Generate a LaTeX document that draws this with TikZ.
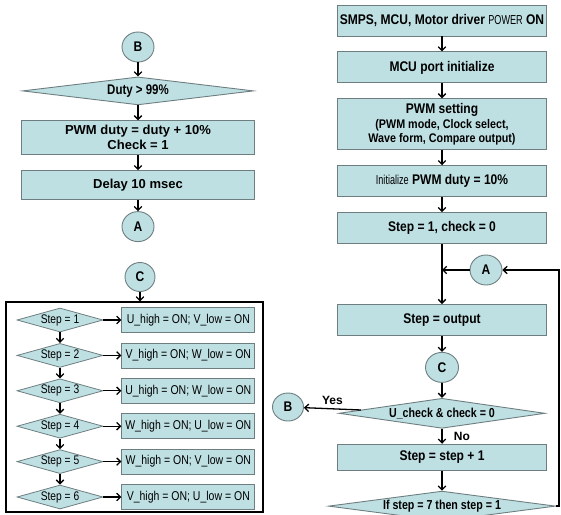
\documentclass[tikz,border=0pt]{standalone}
\usepackage{fontspec}
\setmainfont{Liberation Sans}
\newfontfamily\bodyfont{Liberation Sans}[FakeStretch=0.86]
\newfontfamily\narrowfont{Liberation Sans}[FakeStretch=0.82]
\newfontfamily\condfont{Liberation Sans}[FakeStretch=0.7]
\usepackage{tikz}
\usetikzlibrary{arrows.meta, positioning, shapes.geometric, calc}
\definecolor{boxfill}{HTML}{BFE0E3}
\definecolor{boxline}{HTML}{6E7E80}
\newcommand{\BoldSize}[1]{\bfseries\fontsize{#1}{#1pt}\selectfont}
\newcommand{\SmallLine}{\fontsize{12.5}{15}\selectfont}
\tikzset{
    box/.style={rectangle, draw=boxline, fill=boxfill, line width=0.9pt, inner sep=1pt,
      align=center, minimum width=209pt, minimum height=31pt, font=\bodyfont\BoldSize{14}},
    cond/.style={diamond, draw=boxline, fill=boxfill, line width=0.9pt, inner sep=0pt,
      aspect=9, minimum width=208pt, minimum height=30pt, font=\narrowfont\BoldSize{13}},
    conn/.style={ellipse, draw=boxline, fill=boxfill, line width=0.9pt, inner sep=0pt,
      minimum width=32pt, minimum height=30pt, font=\bodyfont\BoldSize{14}},
    stepbox/.style={diamond, draw=boxline, fill=boxfill, line width=0.8pt, inner sep=0pt,
      aspect=4, minimum width=86pt, minimum height=24pt, font=\narrowfont\fontsize{12.5}{14}\selectfont},
    outbox/.style={rectangle, draw=boxline, fill=boxfill, line width=0.8pt, inner sep=1pt,
      minimum width=133pt, minimum height=25pt, font=\narrowfont\fontsize{12.8}{14}\selectfont},
    flow/.style={line width=1.3pt, -{Straight Barb[length=3.8pt,width=7.5pt]}},
}

\begin{document}
\begin{tikzpicture}[x=1pt, y=-1pt]
    \useasboundingbox (0,0) rectangle (561,514);

    % left top: duty increase
    \node[conn] (l0) at (138,47) {B};
    \node[cond, minimum width=231pt, minimum height=28pt, font=\narrowfont\BoldSize{14}, below=14pt of l0] (l1) {Duty > 99\%};
    \node[box, minimum width=233pt, minimum height=34pt, font=\BoldSize{13}, below=15pt of l1] (l2)
      {PWM duty = duty + 10\%\\[2pt] Check = 1};
    \node[box, minimum width=233pt, minimum height=29pt, font=\BoldSize{13}, below=15pt of l2] (l3) {Delay 10 msec};
    \node[conn, below=11pt of l3] (l4) {A};
    \draw (l0) edge[flow] (l1);
    \draw (l1) edge[flow] (l2);
    \draw (l2) edge[flow] (l3);
    \draw (l3) edge[flow] (l4);

    % left bottom: step outputs
    \node[conn, minimum width=30pt, minimum height=29pt] (c0) at (140,277) {C};
    \node[draw, line width=1.2pt, minimum width=257pt, minimum height=210pt] (fr) at (134.5,407) {};
    \draw (c0) edge[flow] (c0 |- fr.north);

    \node[stepbox] (s1) at (60,320) {Step = 1};
    \node[stepbox, below=10.6pt of s1] (s2) {Step = 2};
    \node[stepbox, below=10.6pt of s2] (s3) {Step = 3};
    \node[stepbox, below=10.6pt of s3] (s4) {Step = 4};
    \node[stepbox, below=10.6pt of s4] (s5) {Step = 5};
    \node[stepbox, below=10.6pt of s5] (s6) {Step = 6};
    \node[outbox, right=18pt of s1] (o1) {U\_high = ON; V\_low = ON};
    \node[outbox, right=18pt of s2] (o2) {V\_high = ON; W\_low = ON};
    \node[outbox, right=18pt of s3] (o3) {U\_high = ON; W\_low = ON};
    \node[outbox, right=18pt of s4] (o4) {W\_high = ON; U\_low = ON};
    \node[outbox, right=18pt of s5] (o5) {W\_high = ON; V\_low = ON};
    \node[outbox, right=18pt of s6] (o6) {V\_high = ON; U\_low = ON};
    \draw (s1) edge[flow] (o1) (s2) edge[flow] (o2) (s3) edge[flow] (o3)
          (s4) edge[flow] (o4) (s5) edge[flow] (o5) (s6) edge[flow] (o6);
    \draw (s1) edge[flow] (s2) (s2) edge[flow] (s3) (s3) edge[flow] (s4)
          (s4) edge[flow] (s5) (s5) edge[flow] (s6);

    % right: main loop
    \node[box] (r0) at (442,20.5) {SMPS, MCU, Motor driver {\condfont\mdseries\fontsize{13}{14}\selectfont POWER} ON};
    \node[box, below=15pt of r0] (r1) {MCU port initialize};
    \node[box, minimum height=51pt, below=15pt of r1] (r2)
      {PWM setting\\[1pt] {\SmallLine (PWM mode, Clock select,}\\[0pt]
       {\SmallLine Wave form, Compare output)}};
    \node[box, below=15pt of r2] (r3) {{\condfont\mdseries\fontsize{13}{14}\selectfont Initialize} PWM duty = 10\%};
    \node[box, below=15pt of r3] (r4) {Step = 1, check = 0};
    \node[box, below=60pt of r4] (r5) {Step = output};
    \node[conn, minimum width=33pt, below=16pt of r5] (r6) {C};
    \node[cond, minimum width=206pt, below=15pt of r6] (r7) {U\_check \& check = 0};
    \node[box, minimum height=26pt, below=15pt of r7] (r8) {Step = step + 1};
    \node[cond, below=20pt of r8] (r9) {If step = 7 then step = 1};
    \node[conn, minimum width=31pt, minimum height=28pt] (r10) at (288,407) {B};
    \node[conn] (r11) at (486,270) {A};
    \coordinate (j0) at (r4 |- r11);
    \coordinate (j1) at (559,270);

    \draw (r0) edge[flow] (r1);
    \draw (r1) edge[flow] (r2);
    \draw (r2) edge[flow] (r3);
    \draw (r3) edge[flow] (r4);
    \draw (r4) edge[flow] (r5);
    \draw (r11) edge[flow] (j0);
    \draw (r5) edge[flow] (r6);
    \draw (r6) edge[flow] (r7);
    \draw (r7) edge[flow] node[above, font=\BoldSize{12}]{Yes} (r10);
    \draw (r7) edge[flow] node[right, xshift=8pt, font=\BoldSize{12}]{No} (r8);
    \draw (r8) edge[flow] (r9);
    \draw[flow] (r9.east) -| (j1) -- (r11);
\end{tikzpicture}
\end{document}
